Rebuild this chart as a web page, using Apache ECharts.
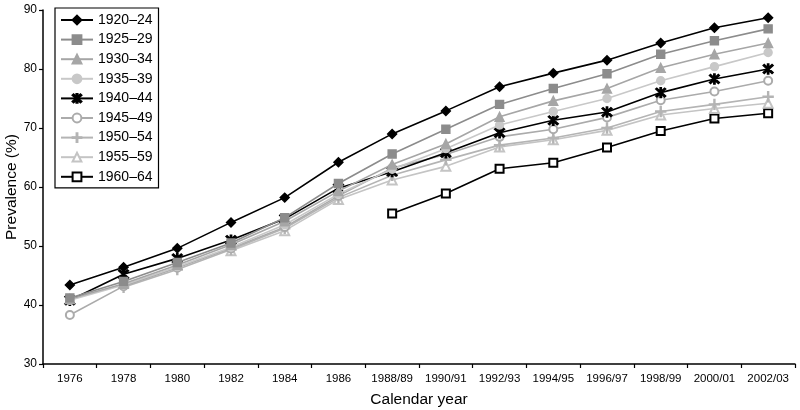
<!DOCTYPE html>
<html><head><meta charset="utf-8">
<script src="https://cdn.jsdelivr.net/npm/echarts@6/dist/echarts.min.js"></script>
<style>html,body{margin:0;padding:0;background:#fff}#c{width:800px;height:410px}</style>
</head><body><div id="c"></div>
<script>
const categories = ['1976','1978','1980','1982','1984','1986','1988/89','1990/91','1992/93','1994/95','1996/97','1998/99','2000/01','2002/03'];
const yTicks = [30,40,50,60,70,80,90];
const names = ['1920–24','1925–29','1930–34','1935–39','1940–44','1945–49','1950–54','1955–59','1960–64'];
const s1920 = [43.4,46.4,49.6,54.0,58.2,64.2,69.0,72.9,77.0,79.3,81.5,84.4,87.0,88.7];
const s1925 = [41.2,44.0,47.2,50.5,54.8,60.6,65.6,69.8,74.0,76.7,79.2,82.5,84.8,86.8];
const s1930 = [41.0,43.6,46.8,50.2,54.2,59.3,63.8,67.3,71.9,74.6,76.7,80.2,82.5,84.4];
const s1935 = [40.8,43.4,46.5,49.8,53.6,58.8,63.0,66.5,70.5,72.8,75.0,78.0,80.4,82.8];
const s1940 = [40.8,45.2,47.9,51.0,54.6,59.8,62.6,65.8,69.2,71.3,72.7,76.0,78.3,80.0];
const s1945 = [38.3,43.2,46.3,49.6,53.2,58.5,63.2,65.5,68.5,69.8,71.8,74.7,76.2,78.0];
const s1950 = [null,43.0,46.0,49.4,53.0,58.2,62.0,64.6,67.1,68.3,70.0,72.8,74.0,75.3];
const s1955 = [null,null,null,49.2,52.6,57.9,61.2,63.5,66.8,68.0,69.6,72.2,73.3,74.2];
const s1960 = [null,null,null,null,null,null,55.5,58.9,63.1,64.1,66.7,69.5,71.6,72.5];

const star = 'path://M-9,-7 L7,9 L9,7 L-7,-9 Z M-9,7 L-7,9 L9,-7 L7,-9 Z M-1.2,-10 L1.2,-10 L1.2,10 L-1.2,10 Z';
const plus = 'path://M-1,-10 L1,-10 L1,-1 L10,-1 L10,1 L1,1 L1,10 L-1,10 L-1,1 L-10,1 L-10,-1 L-1,-1 Z';

const styles = [
  {data:s1920, color:'#000000', symbol:'diamond', size:9},
  {data:s1925, color:'#8c8c8c', symbol:'rect', size:8},
  {data:s1930, color:'#a6a6a6', symbol:'triangle', size:9},
  {data:s1935, color:'#c8c8c8', symbol:'circle', size:8},
  {data:s1940, color:'#000000', symbol:star, size:10},
  {data:s1945, color:'#ababab', symbol:'emptyCircle', size:8},
  {data:s1950, color:'#b4b4b4', symbol:plus, size:10},
  {data:s1955, color:'#c4c4c4', symbol:'emptyTriangle', size:9},
  {data:s1960, color:'#000000', symbol:'emptyRect', size:8}
];

const series = styles.map((s,i)=>({
  name: names[i], type:'line', data:s.data, symbol:s.symbol, symbolSize:s.size,
  showAllSymbol:true, connectNulls:false,
  lineStyle:{color:s.color, width:1.6}, itemStyle:{color:s.color, borderColor:s.color, borderWidth:1.4},
  emphasis:{disabled:true}, z: 10 - i
}));

const chart = echarts.init(document.getElementById('c'), null, {renderer:'canvas'});
chart.setOption({
  animation:false,
  backgroundColor:'#fff',
  textStyle:{fontFamily:'Liberation Sans, Arial, sans-serif'},
  grid:{left:43, right:5, top:10, bottom:46, containLabel:false, outerBoundsMode:'none'},
  legend:{
    orient:'vertical', left:55, top:8,
    padding:[5,6,4,5], itemGap:5.6, itemWidth:32, itemHeight:11,
    borderColor:'#000', borderWidth:1.2, backgroundColor:'#fff',
    textStyle:{fontSize:14, color:'#000', fontFamily:'Liberation Sans, Arial, sans-serif'},
    data:names
  },
  xAxis:{
    type:'category', data:categories, boundaryGap:true,
    name:'Calendar year', nameLocation:'middle', nameGap:28, nameMoveOverlap:false,
    nameTextStyle:{fontSize:15.5, color:'#000'},
    axisLine:{lineStyle:{color:'#000', width:1.5}},
    axisTick:{show:true, length:4, lineStyle:{color:'#000', width:1.2}},
    axisLabel:{fontSize:11.5, color:'#000', interval:0, margin:9},
    splitLine:{show:false}
  },
  yAxis:{
    type:'value', min:yTicks[0], max:yTicks[yTicks.length-1], interval:10,
    name:'Prevalence (%)', nameLocation:'middle', nameGap:23, nameMoveOverlap:false,
    nameTextStyle:{fontSize:15.5, color:'#000'},
    axisLine:{show:true, lineStyle:{color:'#000', width:1.5}},
    axisTick:{show:true, length:4, lineStyle:{color:'#000', width:1.2}},
    axisLabel:{fontSize:12, color:'#000', margin:6},
    splitLine:{show:false}
  },
  series: series
});
</script></body></html>
